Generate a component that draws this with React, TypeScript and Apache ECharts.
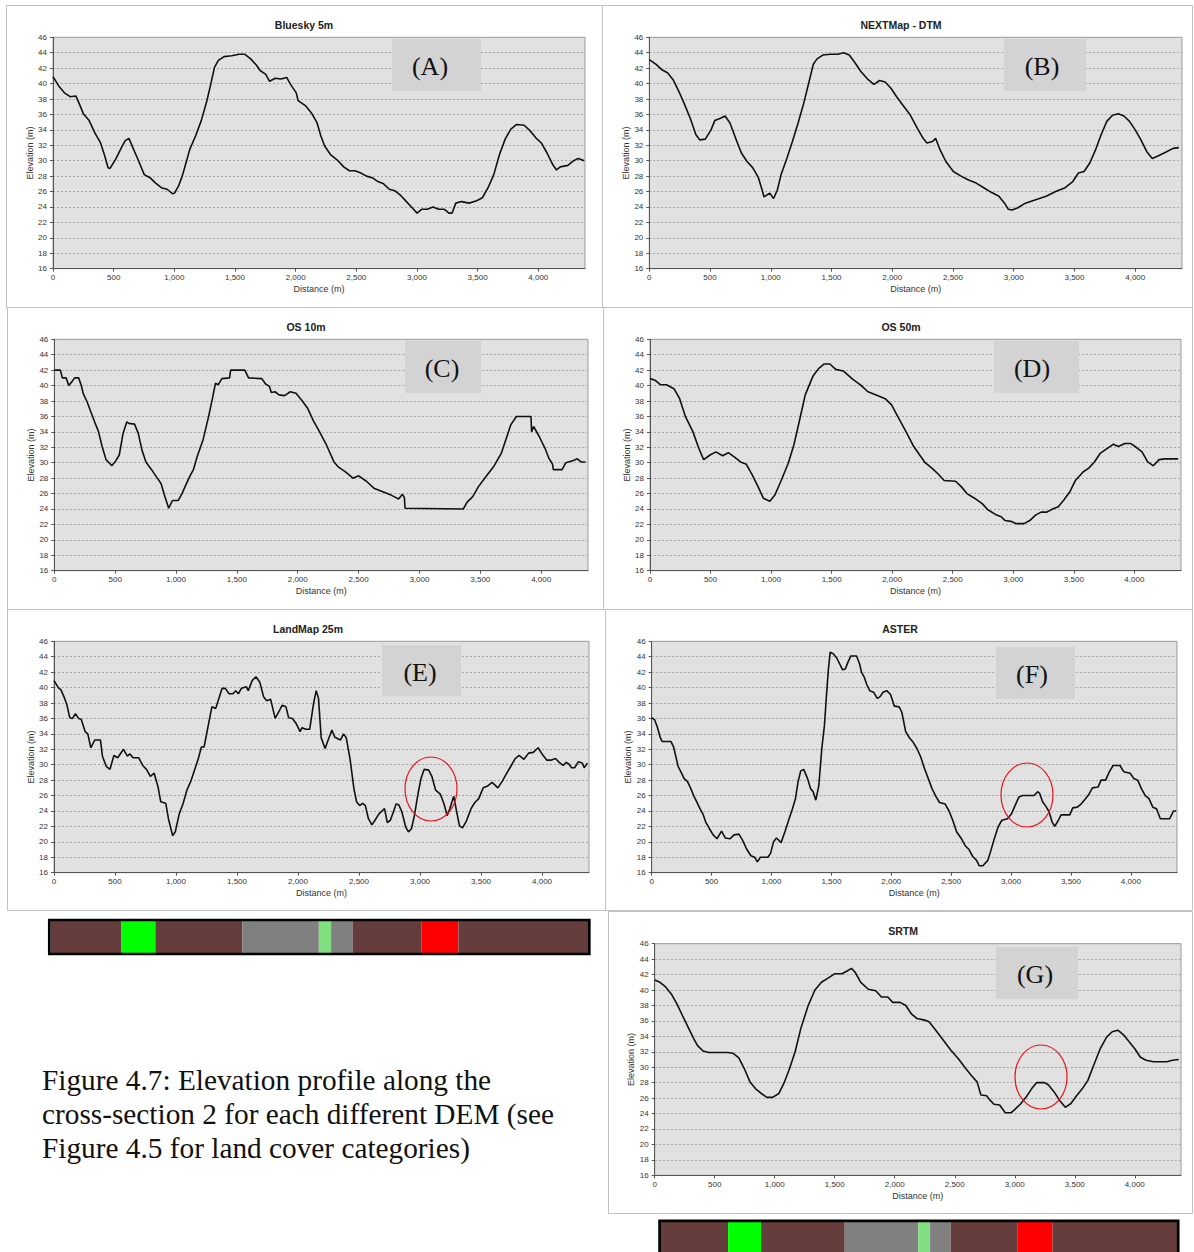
import React, { useEffect, useRef } from "react";
import * as echarts from "echarts";

// ---------- DATA ----------
const X_MAX = 4385;
const X_STEP = 500;
const Y_MIN = 16;
const Y_MAX = 46;
const Y_STEP = 2;

const blueskyProfile: [number, number][] = [
  [0,40.9],[47,39.7],[94,38.8],[141,38.3],[188,38.4],[219,37.3],[250,36.1],[298,35.2],[345,33.6],[392,32.3],[423,30.8],[454,29.1],[470,29.0],[517,30.2],[564,31.7],[595,32.6],[626,32.9],[658,31.7],[705,30.0],[752,28.2],[799,27.8],[846,27.1],[893,26.5],[940,26.3],[987,25.7],[1002,25.8],[1034,26.7],[1065,28.0],[1096,29.7],[1128,31.5],[1175,33.2],[1222,35.2],[1269,37.8],[1300,39.9],[1331,42.1],[1363,43.0],[1410,43.5],[1472,43.6],[1535,43.8],[1582,43.8],[1629,43.2],[1676,42.4],[1707,41.7],[1754,41.2],[1785,40.3],[1832,40.7],[1879,40.6],[1926,40.8],[1958,39.9],[2005,38.8],[2020,37.8],[2083,37.1],[2130,36.2],[2177,34.9],[2208,33.2],[2239,31.9],[2287,30.8],[2349,30.0],[2396,29.2],[2443,28.7],[2490,28.7],[2537,28.4],[2584,28.0],[2631,27.8],[2678,27.3],[2725,27.0],[2772,26.3],[2819,26.1],[2866,25.5],[2913,24.7],[2960,23.9],[3001,23.2],[3038,23.7],[3085,23.7],[3132,24.0],[3179,23.7],[3226,23.7],[3264,23.2],[3289,23.2],[3320,24.5],[3367,24.7],[3430,24.5],[3492,24.8],[3539,25.2],[3586,26.5],[3633,28.2],[3680,30.8],[3727,32.8],[3774,34.1],[3821,34.7],[3884,34.6],[3931,33.9],[3978,33.0],[4025,32.3],[4072,31.0],[4119,29.5],[4150,28.8],[4181,29.2],[4244,29.4],[4291,30.0],[4329,30.3],[4379,30.0]
];

const nextmapProfile: [number, number][] = [
  [0,43.1],[56,42.5],[103,41.8],[150,41.4],[196,40.5],[243,39.0],[290,37.3],[337,35.5],[383,33.4],[415,32.7],[461,32.8],[508,34.0],[539,35.2],[586,35.5],[624,35.8],[664,34.9],[711,32.9],[758,31.0],[804,29.9],[851,29.1],[898,27.8],[929,26.2],[945,25.3],[991,25.8],[1023,25.1],[1054,26.2],[1085,28.2],[1132,30.3],[1178,32.5],[1225,34.9],[1272,37.5],[1319,40.5],[1350,42.5],[1381,43.2],[1428,43.7],[1490,43.8],[1553,43.8],[1599,44.0],[1646,43.7],[1693,42.7],[1740,41.6],[1802,40.5],[1849,39.9],[1896,40.4],[1942,40.2],[1989,39.4],[2036,38.3],[2083,37.3],[2145,36.0],[2207,34.2],[2254,32.9],[2285,32.3],[2332,32.5],[2357,32.9],[2394,31.4],[2441,29.9],[2503,28.6],[2566,28.0],[2628,27.5],[2691,27.1],[2753,26.5],[2815,25.9],[2878,25.4],[2924,24.5],[2956,23.7],[2987,23.6],[3034,23.9],[3096,24.5],[3174,24.9],[3267,25.4],[3345,26.0],[3423,26.5],[3486,27.3],[3532,28.4],[3579,28.6],[3626,29.7],[3673,31.4],[3720,33.4],[3766,35.1],[3813,35.9],[3860,36.1],[3907,35.8],[3953,35.1],[4000,34.0],[4047,32.7],[4094,31.2],[4140,30.3],[4187,30.6],[4250,31.1],[4312,31.6],[4359,31.7]
];

const os10Profile: [number, number][] = [
  [0,42],[50,42],[66,41],[97,41],[119,40],[144,40.5],[169,41],[200,41],[222,40],[237,39],[269,37.9],[300,36.6],[331,35.3],[362,34.1],[393,32.1],[425,30.4],[450,30.0],[472,29.6],[503,30.2],[534,31.0],[565,33.8],[596,35.3],[612,35.1],[659,35.0],[690,33.8],[721,31.6],[753,30.1],[799,29.1],[846,28.0],[877,27.3],[909,25.6],[940,24.1],[971,25.1],[1018,25.1],[1049,26.0],[1080,27.1],[1112,28.2],[1143,29.1],[1174,30.8],[1221,32.9],[1268,36.0],[1299,38.3],[1324,40.3],[1346,40.1],[1377,40.9],[1440,41],[1449,42],[1565,42],[1596,41],[1705,40.9],[1736,40.2],[1767,39.9],[1783,39.1],[1814,39.2],[1846,38.8],[1892,38.7],[1939,39.2],[1986,39.0],[2033,38.1],[2080,37.1],[2127,35.5],[2173,34.2],[2236,32.3],[2298,30.1],[2330,29.5],[2392,28.8],[2454,28.0],[2501,28.3],[2564,27.6],[2626,26.7],[2704,26.2],[2767,25.8],[2829,25.3],[2860,25.9],[2876,25.5],[2882,24.1],[3360,24],[3392,24.9],[3438,25.6],[3485,26.9],[3547,28.2],[3610,29.5],[3672,31.2],[3719,33.4],[3750,34.9],[3797,36.0],[3916,36],[3922,34.0],[3938,34.7],[3984,33.4],[4031,31.9],[4063,30.6],[4094,29.8],[4100,29.1],[4172,29.1],[4203,30.0],[4265,30.3],[4297,30.5],[4328,30.1],[4365,30.1]
];

const os50Profile: [number, number][] = [
  [0,40.9],[41,40.7],[88,40.1],[135,40.1],[198,39.6],[245,38.3],[292,36.0],[355,34.0],[402,31.9],[443,30.4],[496,31.0],[544,31.4],[600,30.9],[647,31.3],[701,30.7],[748,30.1],[795,29.8],[842,28.5],[889,27.0],[936,25.4],[990,25.0],[1031,25.8],[1078,27.5],[1141,29.9],[1188,32.3],[1235,35.5],[1282,38.8],[1345,41.2],[1392,42.2],[1439,42.8],[1486,42.8],[1533,42.1],[1596,41.9],[1675,40.8],[1738,40.1],[1800,39.2],[1863,38.8],[1942,38.3],[1995,37.5],[2052,35.8],[2115,34.0],[2178,32.1],[2272,30.0],[2335,29.2],[2382,28.5],[2429,27.7],[2523,27.6],[2570,26.9],[2617,26.0],[2680,25.4],[2743,24.7],[2790,23.9],[2853,23.3],[2900,23.0],[2932,22.5],[2979,22.4],[3026,22.1],[3089,22.1],[3136,22.5],[3183,23.2],[3230,23.6],[3277,23.6],[3324,24.0],[3372,24.3],[3419,25.2],[3466,26.2],[3513,27.7],[3576,28.8],[3623,29.3],[3670,30.1],[3717,31.2],[3780,31.9],[3827,32.4],[3868,32.1],[3921,32.5],[3968,32.5],[4015,32.0],[4063,31.4],[4110,30.1],[4157,29.6],[4204,30.4],[4251,30.5],[4361,30.5]
];

const landmapProfile: [number, number][] = [
  [0,40.9],[35,40.0],[57,39.7],[82,38.8],[107,37.7],[129,36.1],[151,36.0],[176,36.6],[201,36.0],[223,35.9],[255,34.3],[277,34.0],[302,32.2],[334,33.2],[381,33.2],[397,31.1],[428,29.8],[459,29.4],[491,31.2],[522,30.9],[570,32.0],[601,31.1],[623,31.4],[648,30.9],[695,30.9],[727,29.9],[758,29.4],[790,28.5],[821,28.9],[853,27.1],[875,25.2],[916,25.0],[938,23.0],[972,20.8],[994,21.3],[1026,23.6],[1057,24.9],[1089,26.7],[1120,27.8],[1152,29.3],[1183,30.8],[1208,32.3],[1230,32.3],[1262,34.9],[1294,37.5],[1325,37.3],[1356,38.8],[1378,39.9],[1404,39.9],[1435,39.2],[1467,39.2],[1489,39.6],[1511,39.2],[1536,39.9],[1577,40.1],[1592,39.6],[1624,40.9],[1655,41.4],[1687,40.7],[1718,38.8],[1743,38.3],[1775,38.5],[1813,36.0],[1844,36.9],[1869,37.7],[1901,37.5],[1923,36.1],[1954,36.0],[1986,35.3],[2017,34.3],[2033,34.8],[2064,34.6],[2096,34.6],[2127,37.9],[2149,39.6],[2168,38.6],[2190,33.5],[2222,32.1],[2247,33.2],[2278,34.5],[2300,33.6],[2323,33.4],[2348,33.2],[2373,34.0],[2395,33.5],[2426,30.8],[2458,26.9],[2480,25.2],[2505,24.7],[2530,25.0],[2552,24.7],[2577,23.0],[2606,22.2],[2631,22.8],[2662,23.6],[2694,24.1],[2709,24.3],[2732,22.5],[2757,22.8],[2782,23.9],[2804,24.9],[2826,24.8],[2851,23.9],[2883,21.9],[2905,21.3],[2930,21.7],[2955,23.5],[2983,26.2],[3008,28.2],[3034,29.4],[3071,29.3],[3097,28.5],[3128,26.7],[3166,26.2],[3197,24.9],[3222,23.4],[3244,24.3],[3276,25.9],[3298,24.1],[3323,22.1],[3348,21.8],[3380,22.7],[3418,24.3],[3449,25.1],[3481,25.6],[3518,27.0],[3550,27.2],[3591,27.7],[3638,27.0],[3676,27.9],[3707,28.8],[3748,29.9],[3780,30.8],[3812,31.2],[3852,30.7],[3890,31.5],[3928,31.6],[3968,32.2],[4000,31.4],[4038,30.6],[4078,30.6],[4110,30.8],[4141,30.3],[4173,29.9],[4198,30.3],[4220,30.1],[4242,29.6],[4267,29.6],[4299,30.4],[4330,30.2],[4346,29.6],[4371,30.2]
];

const asterProfile: [number, number][] = [
  [0,36.1],[25,35.8],[47,34.9],[72,33.5],[88,33.0],[161,33.0],[183,32.3],[198,31.3],[220,29.8],[246,29.0],[271,28.2],[299,27.8],[324,27.0],[350,26.0],[372,25.3],[403,24.3],[428,23.6],[450,22.6],[482,21.7],[513,20.9],[545,20.4],[583,21.4],[614,20.5],[655,20.4],[687,20.9],[728,21.0],[759,20.2],[791,19.1],[828,18.2],[860,18.0],[882,17.4],[907,18.0],[970,18.0],[992,18.5],[1017,20.0],[1042,20.5],[1080,19.9],[1112,21.3],[1143,22.8],[1175,24.3],[1200,25.6],[1222,27.8],[1244,29.2],[1269,29.4],[1301,28.2],[1326,26.9],[1348,26.5],[1370,25.4],[1395,27.3],[1420,32.1],[1442,35.1],[1458,38.8],[1474,42.2],[1490,44.6],[1515,44.4],[1546,43.8],[1568,43.1],[1594,42.3],[1616,42.4],[1641,43.4],[1663,44.1],[1710,44.1],[1735,43.1],[1751,42.0],[1773,41.4],[1795,40.4],[1820,39.6],[1852,39.4],[1883,38.6],[1905,38.8],[1931,39.4],[1962,39.6],[1994,39.1],[2025,37.6],[2066,37.5],[2088,36.8],[2120,34.3],[2151,33.5],[2183,32.9],[2214,32.1],[2246,31.0],[2277,29.5],[2309,28.2],[2340,26.9],[2372,25.9],[2403,25.1],[2450,24.9],[2482,24.0],[2513,22.8],[2545,21.3],[2586,20.4],[2617,19.5],[2649,19.0],[2680,18.1],[2712,17.6],[2734,16.9],[2765,16.9],[2806,17.6],[2828,18.7],[2860,20.4],[2891,21.9],[2923,22.8],[2970,23.0],[3002,23.6],[3033,24.7],[3065,25.8],[3096,26.0],[3191,26.0],[3222,26.5],[3238,26.3],[3263,25.2],[3291,24.6],[3317,23.9],[3342,22.6],[3364,22.0],[3395,22.8],[3417,23.5],[3490,23.5],[3515,24.4],[3553,24.5],[3584,24.9],[3616,25.5],[3647,26.1],[3679,27.0],[3726,27.1],[3751,28.0],[3789,28.0],[3821,29.1],[3852,29.9],[3909,29.9],[3940,29.1],[3994,28.9],[4025,28.2],[4057,28.0],[4088,26.9],[4120,26.0],[4151,25.6],[4183,24.5],[4214,24.3],[4246,23.0],[4324,23.0],[4356,24.0],[4378,24.0]
];

const srtmProfile: [number, number][] = [
  [0,41.3],[44,41.0],[91,40.4],[138,39.5],[185,38.2],[231,36.7],[278,35.2],[325,33.7],[357,32.8],[403,32.1],[450,31.9],[529,31.9],[607,31.9],[654,31.8],[701,31.2],[747,29.8],[794,28.1],[841,27.2],[888,26.6],[935,26.1],[982,26.1],[1035,26.6],[1076,27.9],[1123,29.8],[1170,32.0],[1217,35.0],[1279,38.0],[1335,40.0],[1389,41.0],[1451,41.6],[1498,42.1],[1561,42.1],[1607,42.5],[1639,42.8],[1670,42.3],[1717,41.0],[1780,40.1],[1842,39.9],[1889,39.1],[1942,39.1],[1983,38.4],[2045,38.4],[2092,38.0],[2139,36.9],[2186,36.3],[2249,36.1],[2286,35.9],[2342,34.8],[2405,33.5],[2468,32.2],[2530,31.1],[2593,29.8],[2640,28.9],[2686,28.1],[2718,26.4],[2765,26.3],[2796,25.7],[2827,25.2],[2874,25.1],[2921,24.1],[2968,24.1],[2999,24.5],[3046,25.2],[3093,26.1],[3140,27.2],[3181,28.0],[3249,28.0],[3281,27.7],[3328,26.8],[3374,25.7],[3421,24.8],[3468,25.3],[3515,26.3],[3562,27.2],[3609,28.3],[3656,30.2],[3712,32.4],[3765,33.9],[3812,34.6],[3859,34.8],[3906,34.2],[3953,33.3],[4000,32.4],[4047,31.3],[4094,30.9],[4156,30.7],[4266,30.7],[4313,30.9],[4366,31.0]
];

// land cover segments along the profile (metres) and their category colours
const landCoverLengths = [575, 280, 710, 625, 100, 175, 565, 300, 1060];
const landCoverColors = ["#653d3d", "#00ff00", "#653d3d", "#808080", "#80e080", "#808080", "#653d3d", "#ff0000", "#653d3d"];
const LC_TOTAL = landCoverLengths.reduce((a, b) => a + b, 0);

const captionLines = [
  "Figure 4.7: Elevation profile along the",
  "cross-section 2 for each different DEM (see",
  "Figure 4.5 for land cover categories)",
];

// ---------- LAYOUT ----------
type Panel = {
  title: string;
  tag: string;
  data: [number, number][];
  grid: { left: number; top: number; width: number; height: number };
  titleXY: [number, number];
  tagBox: [number, number, number, number];
  tagXY: [number, number];
  frame: [number, number, number, number];
  circle?: [number, number];
};

const panels: Panel[] = [
  { title: "Bluesky 5m", tag: "(A)", data: blueskyProfile, grid: { left: 53, top: 37.3, width: 532, height: 231.4 }, titleXY: [304, 25], tagBox: [392, 39, 89, 52], tagXY: [430, 66], frame: [6.5, 5.5, 596, 302] },
  { title: "NEXTMap - DTM", tag: "(B)", data: nextmapProfile, grid: { left: 649.3, top: 37.3, width: 532.7, height: 231.4 }, titleXY: [901, 25], tagBox: [1004, 39, 82, 52], tagXY: [1042, 66], frame: [602.5, 5.5, 590, 302] },
  { title: "OS 10m", tag: "(C)", data: os10Profile, grid: { left: 54.3, top: 339.3, width: 533.7, height: 231.4 }, titleXY: [306, 327], tagBox: [405, 341, 76, 52], tagXY: [442, 368], frame: [7.5, 307.5, 596, 302] },
  { title: "OS 50m", tag: "(D)", data: os50Profile, grid: { left: 650, top: 339.3, width: 531, height: 231.4 }, titleXY: [901, 327], tagBox: [994, 341, 85, 52], tagXY: [1032, 368], frame: [603.5, 307.5, 589, 302] },
  { title: "LandMap 25m", tag: "(E)", data: landmapProfile, grid: { left: 54, top: 641.3, width: 535, height: 231.4 }, titleXY: [308, 629], tagBox: [382, 645, 79, 51], tagXY: [420, 672], frame: [7.5, 609.5, 598, 301], circle: [431, 789] },
  { title: "ASTER", tag: "(F)", data: asterProfile, grid: { left: 651.7, top: 641.3, width: 525.3, height: 231.4 }, titleXY: [900, 629], tagBox: [996, 647, 79, 52], tagXY: [1032, 674], frame: [605.5, 609.5, 587, 301], circle: [1027, 795] },
  { title: "SRTM", tag: "(G)", data: srtmProfile, grid: { left: 654.7, top: 943.7, width: 526.3, height: 231.6 }, titleXY: [903, 931], tagBox: [996, 947, 82, 52], tagXY: [1035, 974], frame: [608.5, 911.5, 584, 302], circle: [1041, 1077] },
];

const coverBars = [
  { grid: { left: 50.7, top: 921, width: 537.5, height: 33 }, frame: [49.3, 920, 540, 34] },
  { grid: { left: 660.4, top: 1221.8, width: 517, height: 40 }, frame: [659.6, 1220.8, 518.6, 50] },
];

const SANS = "'Liberation Sans', Arial, sans-serif";
const SERIF = "'Liberation Serif', 'Times New Roman', serif";

function buildOption() {
  const grid: any[] = [];
  const xAxis: any[] = [];
  const yAxis: any[] = [];
  const series: any[] = [];
  const graphic: any[] = [];

  panels.forEach((p, i) => {
    grid.push({
      ...p.grid,
      show: true,
      backgroundColor: "#e1e1e1",
      borderColor: "#9c9c9c",
      borderWidth: 1,
    });
    xAxis.push({
      type: "value",
      gridIndex: i,
      min: 0,
      max: X_MAX,
      interval: X_STEP,
      name: "Distance (m)",
      nameLocation: "middle",
      nameGap: 16,
      nameTextStyle: { fontSize: 9, color: "#333", fontFamily: SANS },
      axisLine: { show: true, onZero: false, lineStyle: { color: "#555", width: 1 } },
      axisTick: { show: true, length: 3, lineStyle: { color: "#555" } },
      axisLabel: {
        fontSize: 8,
        color: "#333",
        fontFamily: SANS,
        margin: 5,
        showMaxLabel: false,
        formatter: (v: number) => (v % X_STEP === 0 ? v.toLocaleString("en-US") : ""),
      },
      splitLine: { show: false },
    });
    yAxis.push({
      type: "value",
      gridIndex: i,
      min: Y_MIN,
      max: Y_MAX,
      interval: Y_STEP,
      name: "Elevation (m)",
      nameLocation: "middle",
      nameRotate: 90,
      nameGap: 17,
      nameTextStyle: { fontSize: 9, color: "#333", fontFamily: SANS },
      axisLine: { show: true, onZero: false, lineStyle: { color: "#555", width: 1 } },
      axisTick: { show: true, length: 3, lineStyle: { color: "#555" } },
      axisLabel: { fontSize: 8, color: "#333", fontFamily: SANS, margin: 6 },
      splitLine: { show: true, lineStyle: { color: "#a6a6a6", width: 1, type: [2, 2] } },
    });
    series.push({
      type: "line",
      xAxisIndex: i,
      yAxisIndex: i,
      data: p.data,
      showSymbol: false,
      symbol: "none",
      silent: true,
      lineStyle: { color: "#111", width: 1.6 },
      z: 5,
    });

    graphic.push({
      type: "rect",
      shape: { x: p.frame[0], y: p.frame[1], width: p.frame[2], height: p.frame[3] },
      style: { fill: "none", stroke: "#c2c2c2", lineWidth: 1 },
      z: 1,
      silent: true,
    });
    graphic.push({
      type: "text",
      x: p.titleXY[0],
      y: p.titleXY[1],
      style: { text: p.title, fontSize: 10.5, fontWeight: "bold", fontFamily: SANS, fill: "#222", align: "center", verticalAlign: "middle" },
      z: 100,
      silent: true,
    });
    graphic.push({
      type: "rect",
      shape: { x: p.tagBox[0], y: p.tagBox[1], width: p.tagBox[2], height: p.tagBox[3] },
      style: { fill: "#d3d3d3" },
      z: 100,
      silent: true,
    });
    graphic.push({
      type: "text",
      x: p.tagXY[0],
      y: p.tagXY[1],
      style: { text: p.tag, fontSize: 26, fontFamily: SERIF, fill: "#111", align: "center", verticalAlign: "middle" },
      z: 101,
      silent: true,
    });
    if (p.circle) {
      graphic.push({
        type: "ellipse",
        shape: { cx: p.circle[0], cy: p.circle[1], rx: 26, ry: 32 },
        style: { fill: "none", stroke: "#e8141c", lineWidth: 1.2 },
        z: 101,
        silent: true,
      });
    }
  });

  coverBars.forEach((b, k) => {
    const gi = panels.length + k;
    grid.push({ ...b.grid, show: false });
    xAxis.push({ type: "value", gridIndex: gi, min: 0, max: LC_TOTAL, show: false });
    yAxis.push({ type: "category", gridIndex: gi, data: ["cover"], show: false });
    landCoverLengths.forEach((len, j) => {
      series.push({
        type: "bar",
        xAxisIndex: gi,
        yAxisIndex: gi,
        stack: "cover" + k,
        data: [len],
        barWidth: "100%",
        silent: true,
        itemStyle: { color: landCoverColors[j] },
      });
    });
    graphic.push({
      type: "rect",
      shape: { x: b.frame[0], y: b.frame[1], width: b.frame[2], height: b.frame[3] },
      style: { fill: "none", stroke: "#000", lineWidth: 2.7 },
      z: 100,
      silent: true,
    });
  });

  captionLines.forEach((line, i) => {
    graphic.push({
      type: "text",
      x: 42,
      y: 1080 + i * 34,
      style: { text: line, fontSize: 29.3, fontFamily: SERIF, fill: "#111", align: "left", verticalAlign: "middle" },
      z: 100,
      silent: true,
    });
  });

  return {
    animation: false,
    backgroundColor: "#ffffff",
    grid,
    xAxis,
    yAxis,
    series,
    graphic,
  };
}

export default function App() {
  const ref = useRef<HTMLDivElement>(null);
  useEffect(() => {
    if (!ref.current) return;
    const chart = echarts.init(ref.current, undefined, { renderer: "svg" });
    chart.setOption(buildOption() as any);
    return () => chart.dispose();
  }, []);
  return (
    <div
      ref={ref}
      style={{ position: "absolute", left: 0, top: 0, width: 1194, height: 1252, background: "#fff" }}
    />
  );
}
